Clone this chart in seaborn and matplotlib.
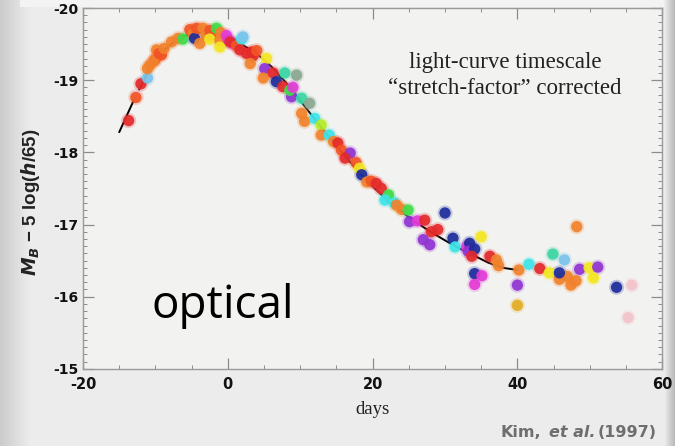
import numpy as np
import pandas as pd
import seaborn as sns
import matplotlib.pyplot as plt
from matplotlib.ticker import MultipleLocator

# template light curve (black line)
curve_days = [-15, -13, -11, -9, -7, -5, -3, -1, 0, 2, 4, 6, 8, 10, 12, 14, 16,
              18, 20, 22, 24, 26, 28, 30, 32, 34, 36, 38, 40]
curve_mags = [-18.28, -18.72, -19.12, -19.40, -19.57, -19.65, -19.67, -19.63, -19.58,
              -19.49, -19.37, -19.19, -18.97, -18.72, -18.46, -18.21, -17.97, -17.74,
              -17.53, -17.34, -17.18, -17.03, -16.90, -16.78, -16.67, -16.57, -16.47,
              -16.40, -16.37]

# stretch-corrected supernova photometry
point_days = [-13.7, -12.6, -12.7, -12.0, -11.1, -11.1, -10.77, -10.08, -10.2, -9.85,
              -9.16, -9.5, -8.8, -7.78, -6.86, -6.2, -5.25, -4.8, -4.6, -4.32,
              -3.87, -3.41, -3.0, -2.49, -2.3, -2.5, -1.56, -1.0, -1.1, -1.1,
              -0.2, 0.05, 0.73, 0.3, 1.2, 1.9, 2.1, 1.66, 2.58, 3.27,
              3.5, 3.1, 4.0, 5.34, 5.1, 4.9, 6.26, 7.87, 9.5, 6.7,
              7.6, 8.8, 8.56, 9.0, 10.2, 11.3, 10.2, 10.6, 12.0, 12.9,
              12.9, 14.0, 14.6, 15.2, 15.7, 16.9, 16.2, 17.7, 18.2, 18.5,
              19.2, 19.8, 20.5, 21.2, 22.2, 21.7, 23.0, 23.3, 24.0, 24.9,
              25.1, 26.2, 27.2, 28.1, 29.0, 27.0, 27.9, 30.0, 31.1, 31.4,
              33.0, 33.4, 33.2, 34.1, 35.0, 33.7, 34.1, 35.1, 34.1, 36.2,
              37.1, 37.4, 40.2, 41.6, 40.0, 40.0, 43.1, 44.4, 44.9, 46.5,
              45.8, 46.9, 47.4, 48.1, 45.8, 48.6, 49.9, 50.5, 51.1, 53.7,
              48.2, 55.8, 55.3]
point_mags = [-18.44, -18.79, -18.76, -18.95, -19.03, -19.16, -19.21, -19.28, -19.27, -19.42,
              -19.35, -19.37, -19.44, -19.53, -19.58, -19.57, -19.70, -19.64, -19.58, -19.72,
              -19.51, -19.72, -19.62, -19.69, -19.62, -19.57, -19.72, -19.66, -19.55, -19.46,
              -19.62, -19.56, -19.51, -19.53, -19.48, -19.57, -19.60, -19.42, -19.37, -19.39,
              -19.34, -19.23, -19.41, -19.30, -19.16, -19.03, -19.10, -19.10, -19.07, -18.98,
              -18.91, -18.77, -18.86, -18.90, -18.75, -18.68, -18.54, -18.43, -18.47, -18.38,
              -18.24, -18.24, -18.15, -18.13, -18.03, -17.99, -17.92, -17.86, -17.78, -17.69,
              -17.59, -17.60, -17.57, -17.50, -17.41, -17.34, -17.30, -17.27, -17.21, -17.20,
              -17.04, -17.05, -17.06, -16.90, -16.93, -16.79, -16.72, -17.16, -16.81, -16.69,
              -16.69, -16.74, -16.63, -16.66, -16.83, -16.56, -16.32, -16.29, -16.17, -16.56,
              -16.51, -16.43, -16.37, -16.45, -16.16, -15.88, -16.39, -16.33, -16.59, -16.51,
              -16.24, -16.28, -16.16, -16.22, -16.33, -16.38, -16.40, -16.26, -16.41, -16.13,
              -16.97, -16.16, -15.71]
point_colours = ['red', 'pink', 'orangered', 'red', 'lightblue', 'orange', 'orange', 'orangered', 'orange', 'orange',
                 'orangered', 'orangered', 'orange', 'orange', 'orange', 'green', 'orangered', 'orange', 'blue', 'orangered',
                 'orange', 'orange', 'orange', 'orangered', 'orangered', 'yellow', 'green', 'orange', 'orange', 'yellow',
                 'magenta', 'magenta', 'magenta', 'red', 'orangered', 'cyan', 'lightblue', 'red', 'red', 'red',
                 'red', 'orange', 'orangered', 'yellow', 'purple', 'orange', 'red', 'teal', 'sage', 'blue',
                 'red', 'purple', 'green', 'magenta', 'teal', 'sage', 'orange', 'orange', 'cyan', 'lime',
                 'orange', 'cyan', 'orange', 'red', 'orangered', 'purple', 'red', 'orangered', 'yellow', 'blue',
                 'orange', 'orangered', 'red', 'red', 'green', 'cyan', 'cyan', 'orange', 'orange', 'green',
                 'purple', 'magenta', 'red', 'red', 'red', 'purple', 'purple', 'blue', 'blue', 'cyan',
                 'magenta', 'blue', 'purple', 'blue', 'yellow', 'red', 'blue', 'magenta', 'magenta', 'red',
                 'orange', 'orange', 'orange', 'cyan', 'purple', 'gold', 'red', 'yellow', 'teal', 'lightblue',
                 'orange', 'orange', 'orange', 'orange', 'blue', 'purple', 'yellow', 'yellow', 'purple', 'blue',
                 'orange', 'pink', 'pink']

palette = {'red': '#e42a2a', 'orangered': '#f25424', 'orange': '#f1822c', 'gold': '#e2ad22',
           'yellow': '#f3e622', 'lime': '#b4ec2a', 'green': '#3edc4a', 'teal': '#3ad6a4',
           'sage': '#8aa890', 'cyan': '#3ee4e8', 'lightblue': '#7cc4ec', 'blue': '#1e2c9c',
           'purple': '#9034d2', 'magenta': '#e43ad6', 'pink': '#f4c4cc'}

df = pd.DataFrame({'day': point_days, 'mag': point_mags, 'colour': point_colours})

sns.set_style('ticks')
plt.rcParams['font.family'] = ['DejaVu Sans']
plt.rcParams['axes.unicode_minus'] = False

fig = plt.figure(figsize=(6.75, 4.46), dpi=100)
fig.patch.set_facecolor('#ececec')

# scanned-slide backdrop with shadowed edges
bg = fig.add_axes([0, 0, 1, 1], zorder=-10)
xs = np.arange(675)
shade = np.full((446, 675), 0.925)
shade[:, :30] -= 0.13 * (1 - xs[:30] / 30.0)
shade[:, 664:] -= 0.22 * ((xs[664:] - 664) / 11.0)
shade[:7, 20:664] = 0.95
bg.imshow(shade, cmap='gray', vmin=0, vmax=1, aspect='auto')
bg.axis('off')

ax = fig.add_axes([0.123, 0.173, 0.858, 0.809])
ax.set_facecolor('#f2f2f0')

sns.lineplot(x=curve_days, y=curve_mags, color='black', lw=1.4, sort=False, ax=ax, zorder=2)
# soft halo first, then the dots themselves (the scan is blurry)
sns.scatterplot(data=df, x='day', y='mag', hue='colour', palette=palette, s=120,
                linewidth=0, alpha=0.22, legend=False, ax=ax, zorder=3)
sns.scatterplot(data=df, x='day', y='mag', hue='colour', palette=palette, s=66,
                linewidth=0, alpha=0.92, legend=False, ax=ax, zorder=4)

ax.set_xlim(-20, 60)
ax.set_ylim(-15, -20)
ax.xaxis.set_major_locator(MultipleLocator(20))
ax.xaxis.set_minor_locator(MultipleLocator(5))
ax.yaxis.set_major_locator(MultipleLocator(1))
ax.yaxis.set_minor_locator(MultipleLocator(0.1))
ax.tick_params(which='both', direction='in', top=True, right=True, color='#8c8c8c')
ax.tick_params(which='major', length=8, width=0.9)
ax.tick_params(which='minor', length=3, width=0.7)
ax.tick_params(axis='x', pad=6, labelsize=10.5, labelcolor='#111111')
ax.tick_params(axis='y', pad=3, labelsize=10, labelcolor='#111111')
for lab in ax.get_xticklabels() + ax.get_yticklabels():
    lab.set_fontweight('bold')
for sp in ax.spines.values():
    sp.set_color('#9a9a9a')
    sp.set_linewidth(1.0)

ax.set_xlabel('days', family='Liberation Serif', fontsize=13.5, labelpad=6, color='#222222')
ax.set_ylabel(r'$\mathbfit{M}_{\mathbfit{B}}$ − 5 log($\mathbfit{h}$/65)', family='Liberation Sans',
              fontsize=13.5, fontweight='bold', color='#222222')
ax.yaxis.set_label_coords(-0.071, 0.463)

ax.text(0.729, 0.812, 'light-curve timescale\n\u201cstretch-factor\u201d corrected',
        transform=ax.transAxes, ha='center', va='center', family='Liberation Serif',
        fontsize=16.5, linespacing=1.3, color='#222222')
fig.text(0.225, 0.287, 'optical', family='Open Sans', fontsize=33, color='black')

# citation in the bottom right corner
fig.text(501 / 675, 0.031, 'Kim,', va='center', fontsize=11.5, fontweight='bold', color='#6e6e6e')
fig.text(549 / 675, 0.031, 'et al.', va='center', fontsize=11.5, fontweight='bold',
         fontstyle='italic', color='#6e6e6e')
fig.text(598 / 675, 0.031, '(1997)', va='center', fontsize=11.5, fontweight='bold', color='#6e6e6e')

fig.savefig('out.png', dpi=100, facecolor=fig.get_facecolor())
